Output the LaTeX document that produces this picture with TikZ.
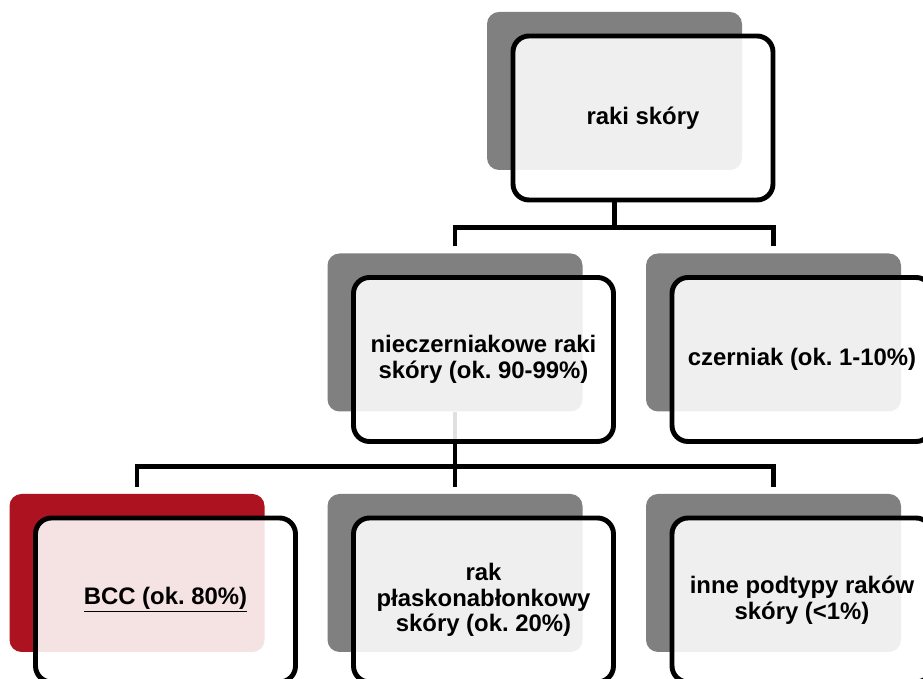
\documentclass[tikz,border=0pt]{standalone}
\usepackage{fontspec}
\setmainfont{Liberation Sans}
\frenchspacing
\usetikzlibrary{positioning}
\definecolor{backgray}{HTML}{808080}
\definecolor{bccred}{HTML}{AD1220}
\tikzset{
  back/.style={fill=#1, rounded corners=0.24cm, minimum width=5.1cm, minimum height=3.16cm, inner sep=0pt},
  back/.default=backgray,
  box/.style={draw=black, line width=2.8pt, fill=white, fill opacity=0.88, text opacity=1,
    rounded corners=0.32cm, minimum width=5.2cm, minimum height=3.28cm, inner sep=0pt,
    align=center, font=\fontsize{13.6}{14.5}\selectfont\bfseries},
  conn/.style={line width=2.8pt, shorten >=0.14cm}
}
\begin{document}
\begin{tikzpicture}
    \useasboundingbox (0,0) rectangle (18.46,-13.58);

    % back shapes
    \node[back] (s1) at (12.29,-1.82) {};
    \node[back] (s2) at (9.10,-6.65) {};
    \node[back] (s3) at (15.47,-6.65) {};
    \node[back=bccred] (s4) at (2.74,-11.46) {};
    \node[back] (s5) at (9.10,-11.46) {};
    \node[back] (s6) at (15.47,-11.46) {};

    % connectors under the boxes
    \coordinate[below=1.14cm of s1.south] (b1);
    \coordinate[below=1.1cm of s2.south] (b2);
    \draw[conn] (s2.south) -- (b2) -| (s4.north);
    \draw[conn] (s2.south) -- (b2) -| (s5.north);
    \draw[conn] (s2.south) -- (b2) -| (s6.north);

    % boxes
    \node[box] (raki) at ([shift={(0.57,-0.54)}]s1) {raki skóry};
    \node[box] (niecz) at ([shift={(0.57,-0.54)}]s2) {nieczerniakowe raki\\skóry (ok. 90-99\%)};
    \node[box] (czern) at ([shift={(0.57,-0.54)}]s3) {czerniak (ok. 1-10\%)};
    \node[box] (bcc) at ([shift={(0.57,-0.54)}]s4) {\underline{BCC (ok. 80\%)}};
    \node[box] (scc) at ([shift={(0.57,-0.54)}]s5) {rak\\płaskonabłonkowy\\skóry (ok. 20\%)};
    \node[box] (inne) at ([shift={(0.57,-0.54)}]s6) {inne podtypy raków\\skóry (<1\%)};

    % top connector from the box edge
    \draw[conn] (raki.south -| b1) -- (b1) -| (s2.north);
    \draw[conn] (raki.south -| b1) -- (b1) -| (s3.north);
\end{tikzpicture}
\end{document}
